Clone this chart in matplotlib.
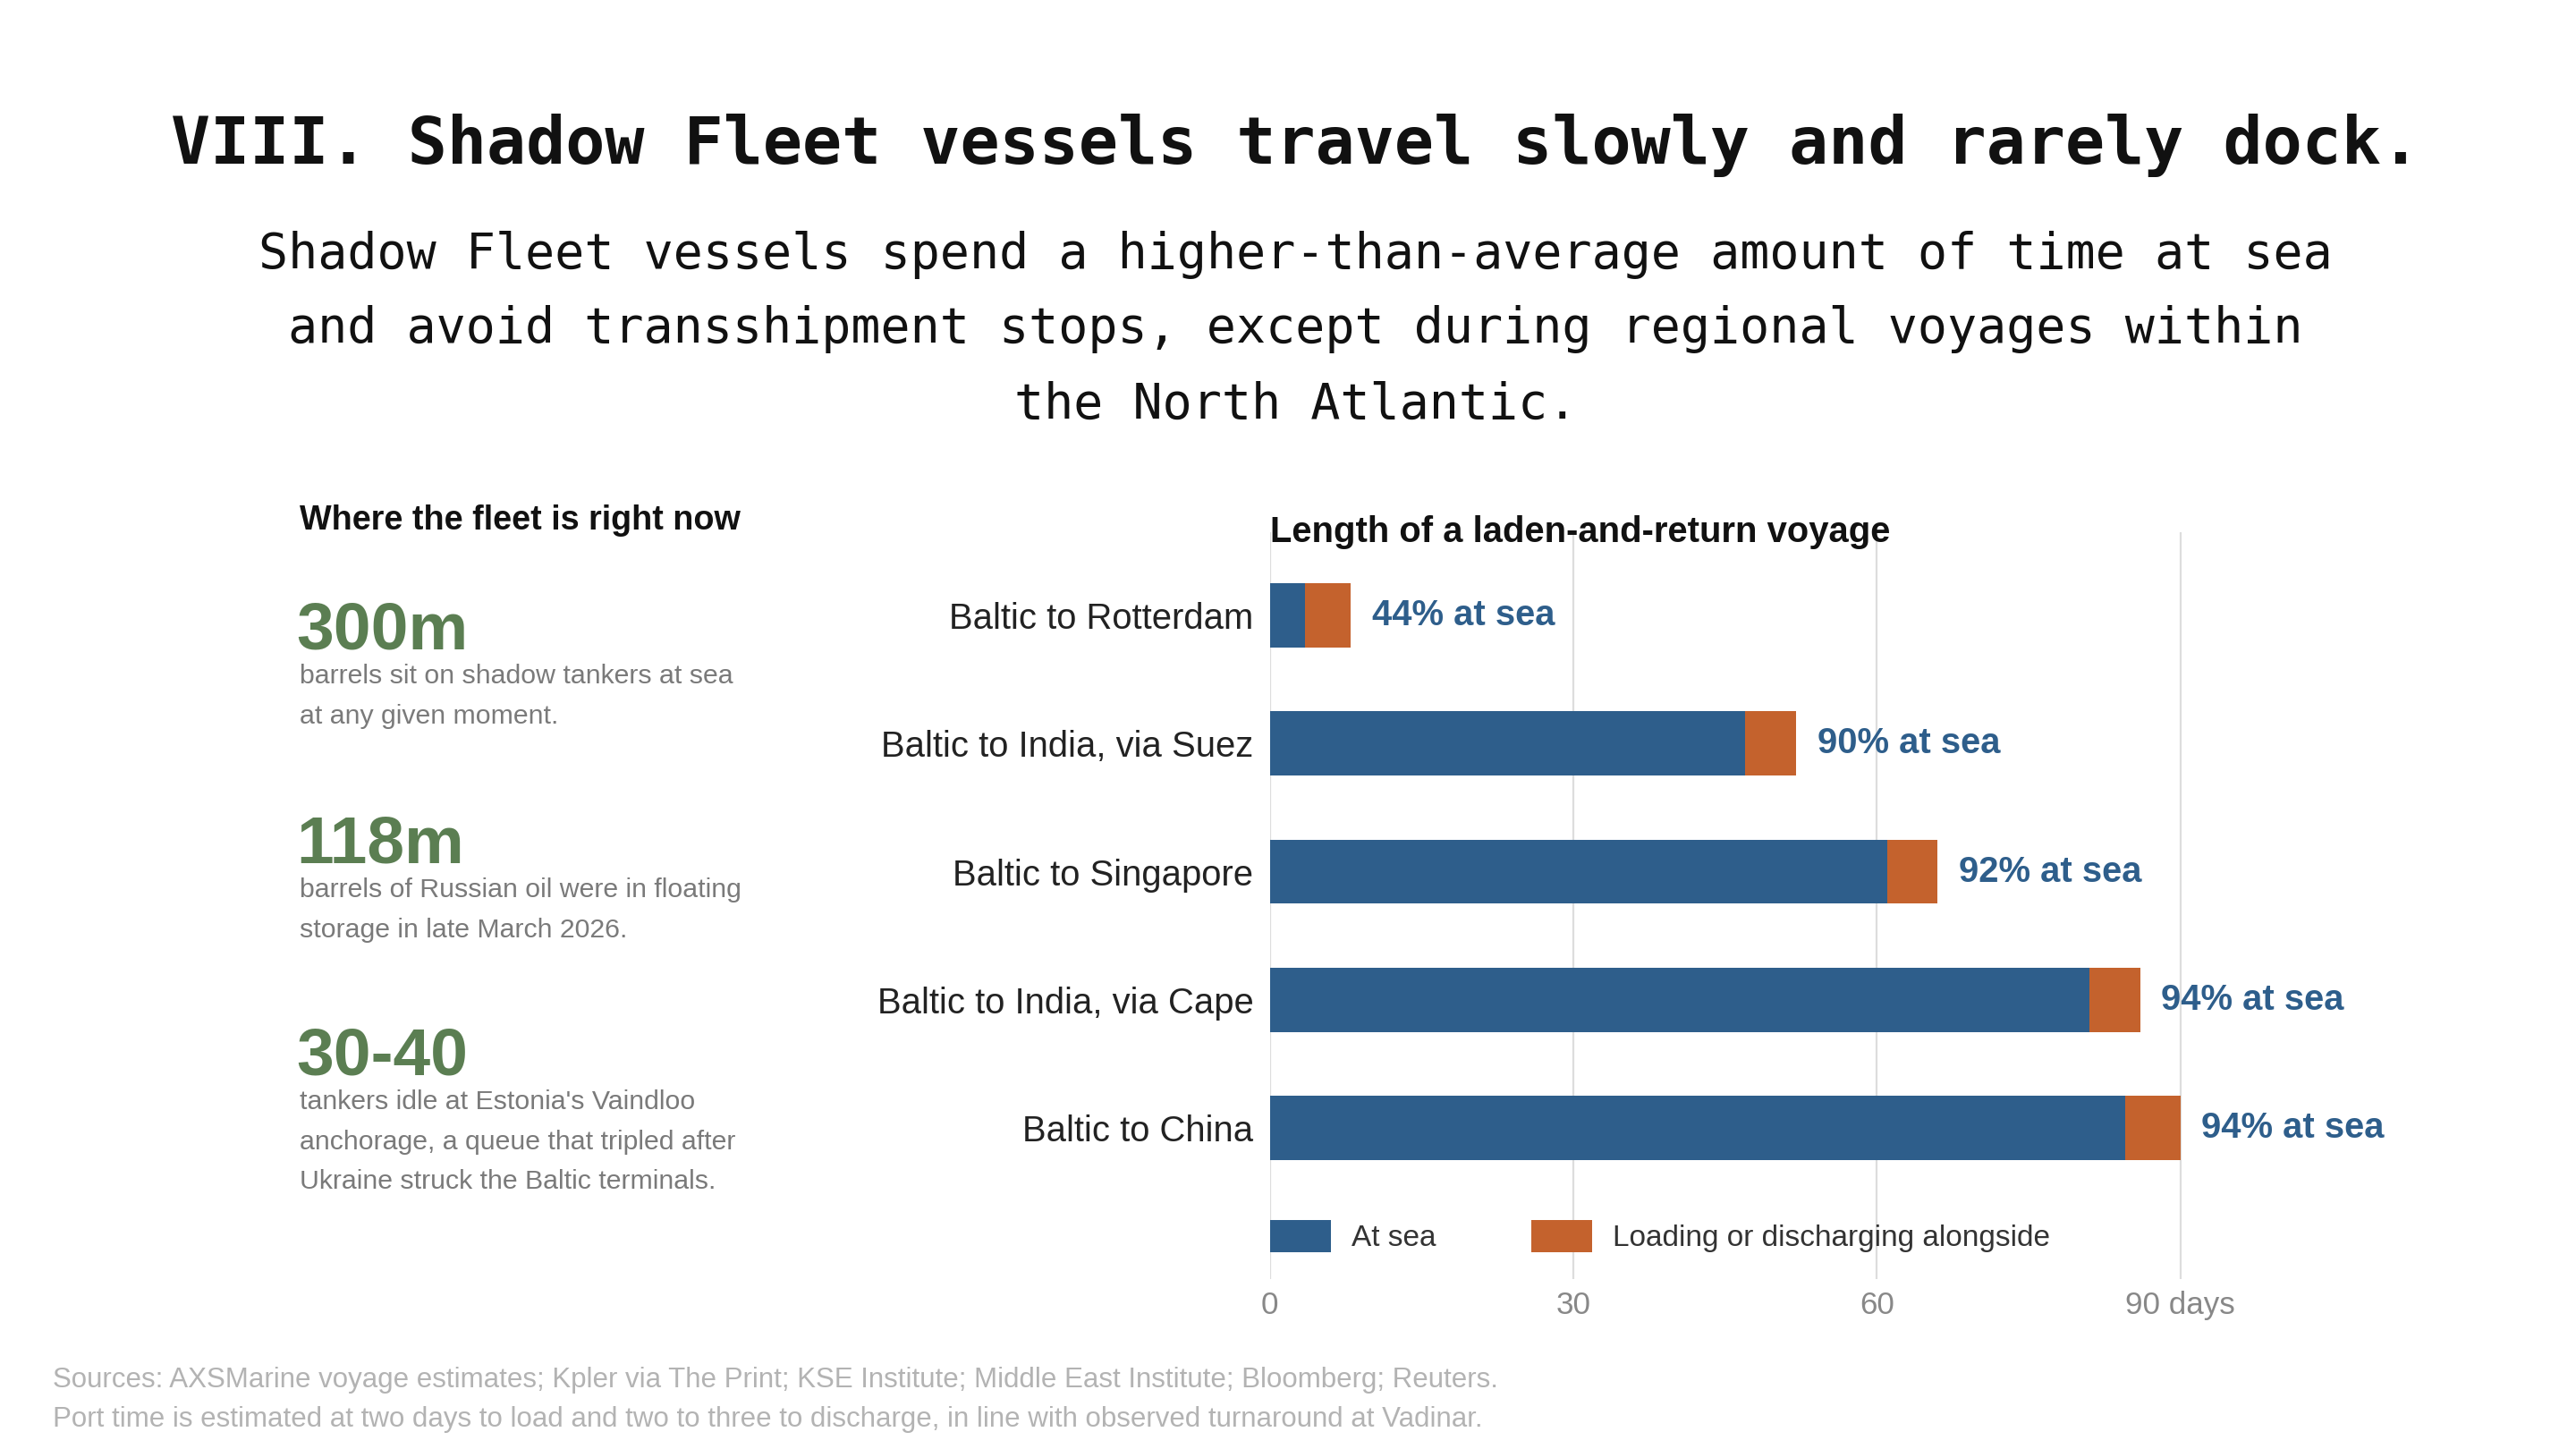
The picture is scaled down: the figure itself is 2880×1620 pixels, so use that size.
import matplotlib
matplotlib.use("Agg")
import matplotlib.pyplot as plt
from matplotlib.patches import Patch

# voyage data, days
routes = ["Baltic to Rotterdam", "Baltic to India, via Suez", "Baltic to Singapore",
          "Baltic to India, via Cape", "Baltic to China"]
daysAtSea = [3.5, 47, 61, 81, 84.5]
daysInPort = [4.5, 5, 5, 5, 5.5]
shareLabels = ["44% at sea", "90% at sea", "92% at sea", "94% at sea", "94% at sea"]
xTicks = [0, 30, 60, 90]
xTickLabels = ["0", "30", "60", "90 days"]

# side panel facts
bigNumbers = ["300m", "118m", "30-40"]
factTexts = [
    ["barrels sit on shadow tankers at sea", "at any given moment."],
    ["barrels of Russian oil were in floating", "storage in late March 2026."],
    ["tankers idle at Estonia's Vaindloo", "anchorage, a queue that tripled after",
     "Ukraine struck the Baltic terminals."],
]

seaColor = "#2e5e8b"
portColor = "#c4622d"
green = "#5b7e52"
mono = "DejaVu Sans Mono"
sans = "Liberation Sans"

plt.rcParams["font.family"] = sans

fig = plt.figure(figsize=(14.4, 8.1), dpi=200)
fig.patch.set_facecolor("white")

# title and subtitle
fig.text(0.503, 0.900, "VIII. Shadow Fleet vessels travel slowly and rarely dock.",
         family=mono, weight="bold", fontsize=26.4, ha="center", va="center", color="#111111")
subLines = ["Shadow Fleet vessels spend a higher-than-average amount of time at sea",
            "and avoid transshipment stops, except during regional voyages within",
            "the North Atlantic."]
for line, yy in zip(subLines, [0.8243, 0.7727, 0.7205]):
    fig.text(0.503, yy, line, family=mono, fontsize=19.8, ha="center", va="center", color="#111111")

# left panel
fig.text(0.1163, 0.641, "Where the fleet is right now", weight="bold", fontsize=13.6,
         ha="left", va="center", color="#111111")
numY = [0.5642, 0.4166, 0.2705]
for num, lines, yy in zip(bigNumbers, factTexts, numY):
    fig.text(0.1150, yy, num, weight="bold", fontsize=27, ha="left", va="center", color=green)
    for i, line in enumerate(lines):
        fig.text(0.1163, yy - 0.031 - i * 0.0275, line, fontsize=10.9,
                 ha="left", va="center", color="#7a7a7a")

# chart
ax = fig.add_axes([0.4929, 0.117, 0.440, 0.516])
ypos = list(range(len(routes)))
ax.barh(ypos, daysAtSea, height=0.5, color=seaColor, linewidth=0, zorder=3)
ax.barh(ypos, daysInPort, left=daysAtSea, height=0.5, color=portColor, linewidth=0, zorder=3)
for y, s, p, lab in zip(ypos, daysAtSea, daysInPort, shareLabels):
    ax.annotate(lab, (s + p, y), xytext=(8.5, 0), textcoords="offset points",
                va="center", ha="left", fontsize=14.4, weight="bold", color=seaColor)

ax.set_xlim(0, 112)
ax.set_ylim(5.18, -0.65)
ax.set_yticks(ypos)
ax.set_yticklabels(routes, fontsize=14.4, color="#222222")
ax.set_xticks(xTicks)
ax.set_xticklabels(xTickLabels, fontsize=12.6, color="#888888")
ax.tick_params(axis="both", length=0)
ax.tick_params(axis="y", pad=6.5)
ax.tick_params(axis="x", pad=4.5)
ax.grid(axis="x", color="#dddddd", linewidth=0.8, zorder=0)
for sp in ax.spines.values():
    sp.set_visible(False)

fig.text(0.4929, 0.633, "Length of a laden-and-return voyage", weight="bold", fontsize=14.4,
         ha="left", va="center", color="#111111")

handles = [Patch(facecolor=seaColor, label="At sea"),
           Patch(facecolor=portColor, label="Loading or discharging alongside")]
ax.legend(handles=handles, loc="center left", bbox_to_anchor=(0, 0.058), ncol=2,
          frameon=False, fontsize=12, handlelength=2.06, handleheight=1.28,
          handletextpad=0.67, columnspacing=3.2, borderaxespad=0, borderpad=0,
          labelcolor="#333333")

# footer
footLines = ["Sources: AXSMarine voyage estimates; Kpler via The Print; KSE Institute; "
             "Middle East Institute; Bloomberg; Reuters.",
             "Port time is estimated at two days to load and two to three to discharge, "
             "in line with observed turnaround at Vadinar."]
for line, yy in zip(footLines, [0.0475, 0.0205]):
    fig.text(0.0206, yy, line, fontsize=11.25, ha="left", va="center", color="#b3b3b3")

fig.savefig("out.png", dpi=200, facecolor="white")
